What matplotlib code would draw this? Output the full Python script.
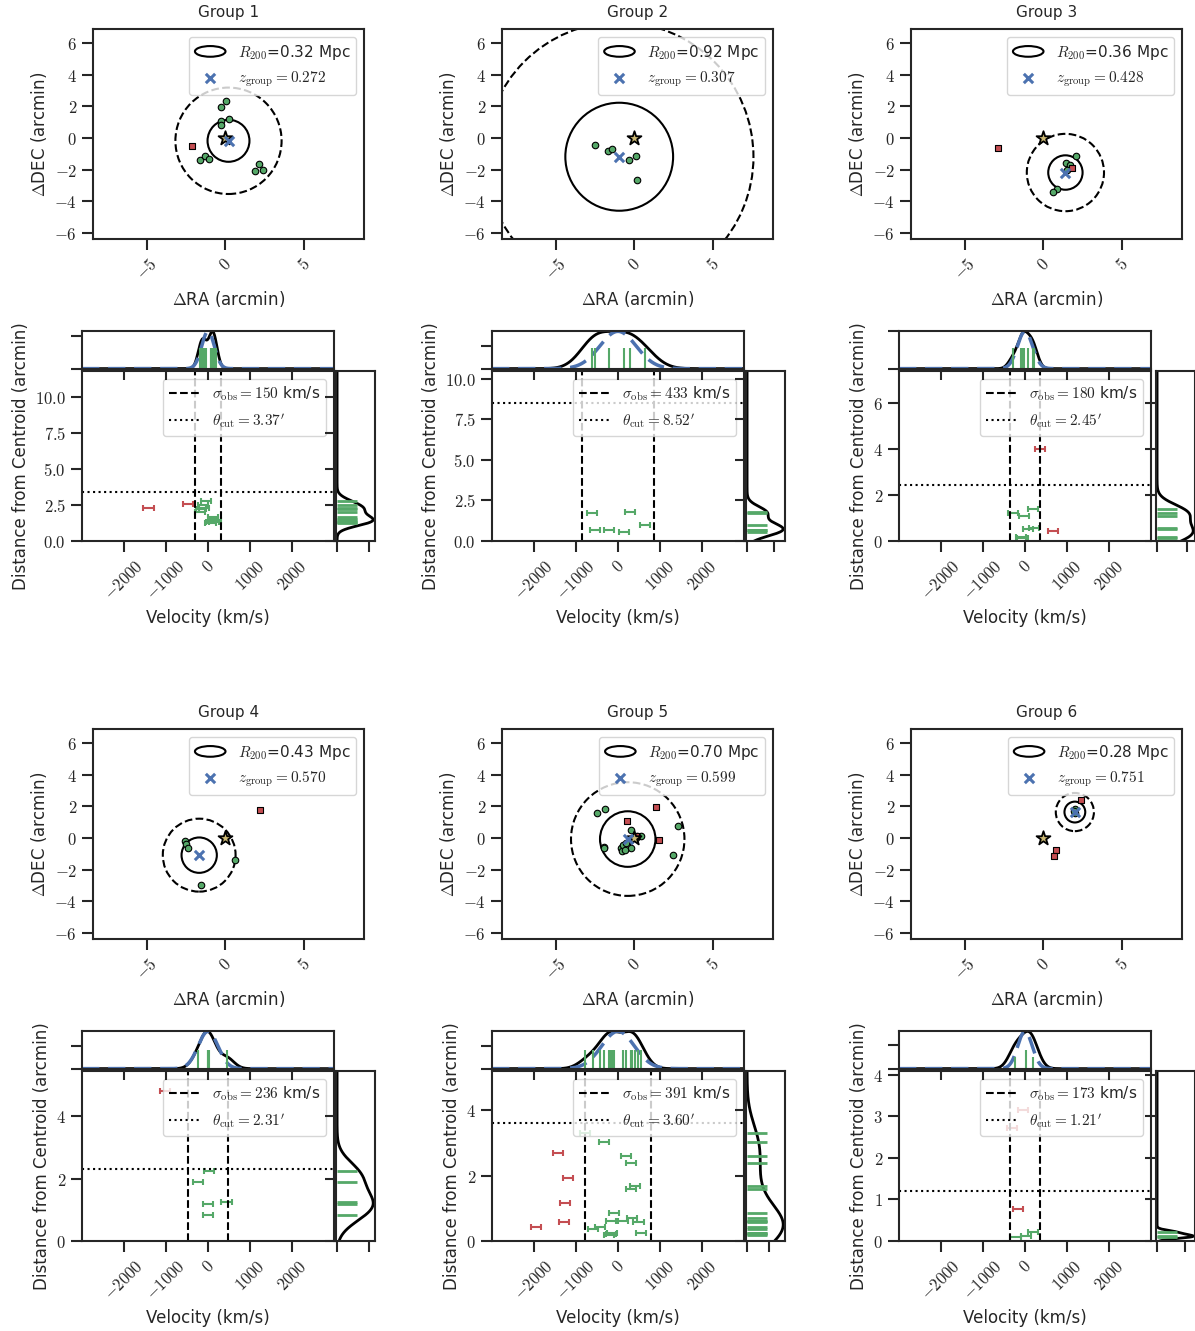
import numpy as np
import matplotlib
matplotlib.use('Agg')
import matplotlib.pyplot as plt
from matplotlib.patches import Circle, Ellipse
from matplotlib.legend_handler import HandlerPatch
from matplotlib.lines import Line2D
from matplotlib.ticker import ScalarFormatter, MultipleLocator, FixedLocator, NullFormatter

# ---- group summary values
groups = ['Group 1', 'Group 2', 'Group 3', 'Group 4', 'Group 5', 'Group 6']
r200_mpc = [0.32, 0.92, 0.36, 0.43, 0.70, 0.28]
z_group = [0.272, 0.307, 0.428, 0.570, 0.599, 0.751]
sigma_obs = [150, 433, 180, 236, 391, 173]
theta_cut = [3.37, 8.52, 2.45, 2.31, 3.60, 1.21]
r200_arcmin = [1.33, 3.42, 1.09, 1.12, 1.76, 0.66]
cen_ra = [0.20, -0.96, 1.40, -1.66, -0.42, 2.00]
cen_dec = [-0.18, -1.19, -2.19, -1.09, -0.07, 1.64]

# ---- sky positions (arcmin)
mem_ra = [
    [0.06, -0.25, 0.23, -0.25, -0.25, -1.59, -1.29, -1.04, 2.14, 1.90, 2.41],
    [-2.49, -1.66, -1.45, -0.36, 0.09, 0.19],
    [1.44, 1.72, 2.06, 0.87, 0.64, 1.50],
    [-2.54, -2.52, -2.35, 0.59, -1.52],
    [-2.39, -1.84, -1.95, -1.93, -0.23, 0.44, -0.85, -0.80, -0.70, -0.19, 2.80, 2.48,
     -0.30, 0.10, -0.50, 0.20, -0.60],
    [1.98, 2.02, 1.95],
]
mem_dec = [
    [2.34, 1.96, 1.23, 1.06, 0.83, -1.38, -1.17, -1.32, -1.64, -2.10, -2.02],
    [-0.47, -0.81, -0.68, -1.38, -1.15, -2.68],
    [-1.60, -1.70, -1.13, -3.21, -3.45, -2.00],
    [-0.19, -0.36, -0.63, -1.41, -2.99],
    [1.56, 1.82, -0.56, -0.66, 0.49, 0.11, -0.62, -0.81, -0.45, -0.62, 0.75, -1.11,
     -0.10, 0.00, -0.30, 0.15, -0.75],
    [1.85, 1.60, 1.70],
]
non_ra = [[-2.14], [], [-2.88, 1.82], [2.18], [-0.44, 1.40, 1.57, 0.00, 0.12], [2.36, 0.83, 0.66]]
non_dec = [[-0.53], [], [-0.64, -1.90], [1.75], [1.07, 1.93, -0.13, 0.00, 0.15], [2.38, -0.78, -1.16]]

# ---- velocity offsets (km/s) and distances from centroid (arcmin)
vel_mem = [
    [-55, -130, -200, -100, 110, 190, 60, 150, -160, 120, 80],
    [-627, -552, -221, 142, 276, 639],
    [-282, -31, 188, 78, 204, -86, -60],
    [24, -228, 8, 441, 8],
    [-780, -323, 197, 315, 299, 402, -102, -173, 126, 339, 488, -590, -425, -134, -205, 551, -170],
    [-227, 31, 188],
]
dist_mem = [
    [2.78, 2.48, 2.04, 2.30, 1.69, 1.46, 1.23, 1.35, 2.20, 1.55, 1.30],
    [1.70, 0.68, 0.70, 0.57, 1.80, 0.96],
    [1.20, 1.10, 1.41, 0.54, 0.58, 0.16, 0.14],
    [2.25, 1.90, 1.20, 1.26, 0.83],
    [3.29, 3.03, 2.60, 2.39, 1.60, 1.68, 0.85, 0.62, 0.62, 0.71, 0.59, 0.38, 0.44, 0.23, 0.18, 0.23, 0.20],
    [0.10, 0.12, 0.21],
]
vel_non = [[-1417, -480], [], [353, 667], [-1024], [-1425, -1181, -1252, -1276, -1945], [-314, -157, -39]]
dist_non = [[2.27, 2.58], [], [4.03, 0.45], [4.80], [2.70, 1.94, 1.15, 0.58, 0.44], [2.73, 0.78, 3.16]]
dist_top = [11.8, 10.47, 7.41, 5.45, 5.2, 4.09]

blue, green, red, gold = '#4C72B0', '#55A868', '#C44E52', '#CCB974'
ink = '#262626'

plt.rcParams.update({
    'mathtext.fontset': 'cm',
    'font.family': 'DejaVu Sans',
    'axes.linewidth': 1.5,
    'axes.edgecolor': ink,
    'axes.labelcolor': ink,
    'text.color': ink,
    'xtick.color': ink, 'ytick.color': ink,
    'xtick.major.size': 8, 'ytick.major.size': 8,
    'xtick.major.width': 1.5, 'ytick.major.width': 1.5,
    'xtick.labelsize': 12, 'ytick.labelsize': 12,
    'axes.labelsize': 12, 'axes.titlesize': 11,
    'legend.fontsize': 11,
    'legend.edgecolor': '0.8',
})


class MathFmt(ScalarFormatter):
    def __call__(self, x, pos=None):
        s = super().__call__(x, pos)
        return '$' + s.replace('\u2212', '-') + '$' if s else s


def mfmt():
    return MathFmt(useOffset=False, useMathText=False)


def ellipse_handle(legend, orig_handle, xdescent, ydescent, width, height, fontsize):
    return Ellipse((0.5 * width - xdescent, 0.5 * height - ydescent), width, height)


def kde(samples, grid):
    s = np.asarray(samples, float)
    bw = s.std(ddof=1) * len(s) ** (-0.2)
    z = (grid[:, None] - s[None, :]) / bw
    return np.exp(-0.5 * z ** 2).sum(1) / (len(s) * bw * np.sqrt(2 * np.pi))


W, H = 1195, 1331
fig = plt.figure(figsize=(W / 100, H / 100), dpi=100)


def px_axes(x0, y0, x1, y1):
    return fig.add_axes([x0 / W, 1 - y1 / H, (x1 - x0) / W, (y1 - y0) / H])


sky_x0 = [93, 502, 911]
sky_y = [(29, 239), (729, 939)]
vel_x0 = [82, 492, 899]
vel_y = [(371, 541), (1071, 1241)]
top_y = [(331, 369), (1031, 1069)]
side_x0 = [336, 746, 1156]
top_tick = [0.88, 0.61, 1.0, 0.61, 0.61, 0.63]
side_tick = [0.85, 0.71, 0.79, 0.85, 0.60, 0.75]
top_h = [[0.55] * 11, [0.55] * 6, [0.55] * 7, [0.5] * 5, [0.5] * 17, [0.32, 0.5, 0.32]]

for g in range(6):
    row, col = g // 3, g % 3

    # ---------------- sky panel
    ax = px_axes(sky_x0[col], sky_y[row][0], sky_x0[col] + 271, sky_y[row][1])
    c_in = Circle((cen_ra[g], cen_dec[g]), r200_arcmin[g], fill=False, color='k', lw=1.5,
                  label=r'$R_{200}$=%.2f Mpc' % r200_mpc[g])
    c_out = Circle((cen_ra[g], cen_dec[g]), theta_cut[g], fill=False, color='k', lw=1.5, ls='--')
    ax.add_patch(c_in)
    ax.add_patch(c_out)
    ax.scatter(mem_ra[g], mem_dec[g], s=22, c=green, edgecolors='k', linewidths=0.8, zorder=3)
    if non_ra[g]:
        ax.scatter(non_ra[g], non_dec[g], s=16, c=red, marker='s', edgecolors='k', linewidths=0.8, zorder=3)
    ax.scatter([0], [0], s=110, marker='*', c=gold, edgecolors='k', linewidths=1.3, zorder=4)
    xm = ax.scatter([cen_ra[g]], [cen_dec[g]], s=45, marker='x', c=blue, linewidths=2.2, zorder=5,
                    label=r'$z_{\rm group} = %.3f$' % z_group[g])
    ax.set_xlim(-8.4, 8.8)
    ax.set_ylim(-6.4, 6.9)
    ax.xaxis.set_major_locator(FixedLocator([-5, 0, 5]))
    ax.yaxis.set_major_locator(MultipleLocator(2))
    ax.xaxis.set_major_formatter(mfmt())
    ax.yaxis.set_major_formatter(mfmt())
    plt.setp(ax.get_xticklabels(), rotation=45)
    ax.set_xlabel(r'$\Delta$RA (arcmin)')
    ax.set_ylabel(r'$\Delta$DEC (arcmin)')
    ax.set_title(groups[g], pad=9)
    ax.legend(handles=[c_in, xm], loc='upper right', framealpha=0.8,
              handler_map={Circle: HandlerPatch(patch_func=ellipse_handle)})

    # ---------------- velocity panel
    x0 = vel_x0[col]
    axm = px_axes(x0, vel_y[row][0], x0 + 252, vel_y[row][1])
    axt = px_axes(x0, top_y[row][0], x0 + 252, top_y[row][1])
    axr = px_axes(side_x0[col], vel_y[row][0], side_x0[col] + 39, vel_y[row][1])

    vm = np.array(vel_mem[g], float)
    dm = np.array(dist_mem[g], float)
    axm.errorbar(vm, dm, xerr=120, fmt='none', ecolor=green, elinewidth=1.5, capsize=2, capthick=1.5)
    if vel_non[g]:
        axm.errorbar(vel_non[g], dist_non[g], xerr=120, fmt='none', ecolor=red, elinewidth=1.5,
                     capsize=2, capthick=1.5)
    axm.axvline(-2 * sigma_obs[g], color='k', ls='--', lw=1.5)
    axm.axvline(2 * sigma_obs[g], color='k', ls='--', lw=1.5)
    axm.axhline(theta_cut[g], color='k', ls=':', lw=1.5)
    axm.set_xlim(-3000, 3000)
    axm.set_ylim(0, dist_top[g])
    axm.xaxis.set_major_locator(FixedLocator([-2000, -1000, 0, 1000, 2000]))
    axm.xaxis.set_major_formatter(mfmt())
    axm.yaxis.set_major_formatter(mfmt())
    plt.setp(axm.get_xticklabels(), rotation=45)
    axm.set_xlabel('Velocity (km/s)')
    axm.set_ylabel('Distance from Centroid (arcmin)')
    hl = [Line2D([], [], color='k', ls='--', lw=1.5), Line2D([], [], color='k', ls=':', lw=1.5)]
    axm.legend(hl, [r'$\sigma_{\rm obs} = %d$ km/s' % sigma_obs[g],
                    r"$\theta_{\rm cut} = %.2f'$" % theta_cut[g]],
               loc='upper right', framealpha=0.8)

    # top marginal: velocity distribution
    vg = np.linspace(-3000, 3000, 600)
    kv = kde(vm, vg)
    gauss = np.exp(-0.5 * (vg / sigma_obs[g]) ** 2)
    axt.plot(vg, kv / kv.max(), color='k', lw=2)
    axt.plot(vg, gauss, color=blue, lw=2.5, ls='--', dashes=(5, 2.5))
    axt.vlines(vm, 0, top_h[g], color=green, lw=1.5)
    axt.set_xlim(-3000, 3000)
    axt.set_ylim(-0.01, 1.01)
    axt.xaxis.set_major_locator(FixedLocator([-2000, -1000, 0, 1000, 2000]))
    axt.yaxis.set_major_locator(FixedLocator([0, top_tick[g] * 1.02 - 0.01]))
    axt.xaxis.set_major_formatter(NullFormatter())
    axt.yaxis.set_major_formatter(NullFormatter())

    # right marginal: distance distribution
    dg = np.linspace(0, dist_top[g], 400)
    kd = kde(dm, dg)
    axr.plot(kd / kd.max(), dg, color='k', lw=2)
    axr.hlines(dm, 0, 0.55, color=green, lw=2)
    axr.set_xlim(-0.03, 1.05)
    axr.set_ylim(0, dist_top[g])
    axr.yaxis.set_major_locator(axm.yaxis.get_major_locator())
    axr.xaxis.set_major_locator(FixedLocator([0, side_tick[g] * 1.08 - 0.03]))
    axr.xaxis.set_major_formatter(NullFormatter())
    axr.yaxis.set_major_formatter(NullFormatter())

fig.savefig('out.png', dpi=100)
